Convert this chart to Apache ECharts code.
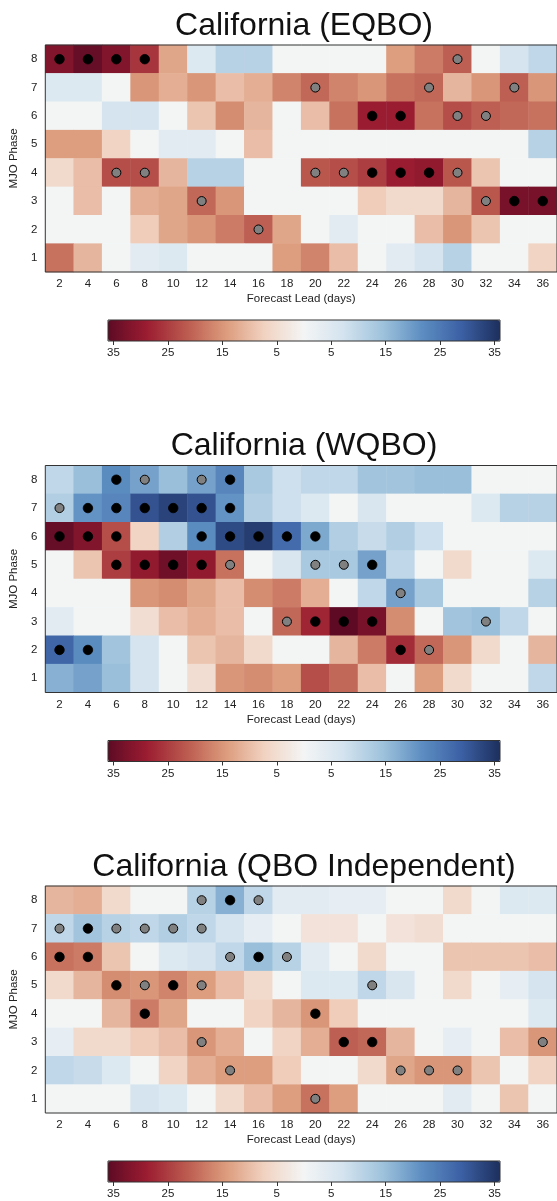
<!DOCTYPE html>
<html>
<head>
<meta charset="utf-8">
<title>California MJO/QBO lead-phase anomalies</title>
<script src="https://cdn.jsdelivr.net/npm/echarts@6/dist/echarts.min.js"></script>
<style>
  html, body { margin: 0; padding: 0; background: #ffffff; }
  #chart { width: 557px; height: 1201px; }
</style>
</head>
<body>
<div id="chart"></div>
<script>
// Axis categories
const leads = ['2', '4', '6', '8', '10', '12', '14', '16', '18', '20', '22', '24', '26', '28', '30', '32', '34', '36'];
const phases = ['1', '2', '3', '4', '5', '6', '7', '8'];
const panelTitles = ['California (EQBO)', 'California (WQBO)', 'California (QBO Independent)'];
const colorbarTicks = [-35, -25, -15, -5, 5, 15, 25, 35];

// Anomaly values; rows run from MJO phase 8 (first) down to phase 1 (last),
// columns follow the forecast leads above.
const eqboValues = [
  [-32, -35, -32, -26, -13, 5, 11, 11, 0, 0, 0, 0, -14, -18, -21, 0, 7, 10],
  [5, 5, 0, -15, -12, -15, -10, -12, -17, -20, -17, -15, -19, -20, -11, -15, -21, -15],
  [0, 0, 7, 7, 0, -9, -16, -11, 0, -10, -19, -29, -29, -19, -23, -21, -20, -19],
  [-14, -14, -7, 0, 4, 4, 0, -10, 0, 0, 0, 0, 0, 0, 0, 0, 0, 11],
  [-6, -10, -23, -23, -11, 11, 11, 0, 0, -22, -23, -25, -29, -30, -22, -9, 0, 0],
  [0, -10, 0, -12, -13, -20, -15, 0, 0, 0, 0, -8, -6, -6, -11, -22, -33, -33],
  [0, 0, 0, -8, -13, -15, -18, -21, -13, 0, 4, 0, 0, -10, -15, -9, 0, 0],
  [-19, -11, 0, 4, 5, 0, 0, 0, -14, -17, -10, 0, 4, 7, 11, 0, 0, -7]
];
const wqboValues = [
  [10, 15, 22, 19, 15, 19, 23, 13, 8, 10, 10, 14, 14, 15, 15, 0, 0, 0],
  [12, 21, 23, 31, 33, 31, 21, 12, 8, 5, 0, 6, 0, 0, 0, 5, 11, 11],
  [-35, -32, -23, -7, 12, 22, 32, 34, 27, 18, 12, 9, 12, 8, 0, 0, 0, 0],
  [0, -9, -25, -30, -34, -30, -19, 0, 6, 13, 13, 19, 10, 0, -6, 0, 0, 5],
  [0, 0, 0, -15, -16, -13, -10, -16, -18, -12, 0, 10, 19, 13, 0, 0, 0, 11],
  [4, 0, 0, -5, -10, -12, -10, 0, -20, -28, -36, -33, -16, 0, 14, 15, 10, 0],
  [28, 22, 14, 7, 0, -9, -11, -6, 0, 0, -11, -18, -27, -20, -15, -6, 0, -11],
  [17, 19, 15, 7, 0, -5, -15, -16, -14, -23, -20, -10, 0, -14, -6, 0, 0, 10]
];
const qboIndValues = [
  [-11, -12, -6, 0, 0, 11, 17, 10, 4, 4, 3, 3, 0, 0, -6, 0, 5, 5],
  [10, 14, 11, 10, 12, 10, 7, 3, 0, -4, -4, 0, -4, -5, 0, 0, 0, 0],
  [-19, -18, -9, 0, 5, 7, 10, 15, 11, 4, 0, -6, 0, 0, -9, -9, -9, -10],
  [-6, -11, -16, -15, -17, -14, -10, -6, 0, 5, 5, 10, 6, 0, -6, 0, 3, 7],
  [0, 0, -11, -18, -13, 0, 0, -7, -11, -15, -8, 0, 0, 0, 0, 0, 0, 5],
  [3, -6, -6, -8, -10, -15, -12, 0, -7, -12, -21, -20, -11, 0, 3, 0, -10, -15],
  [10, 9, 5, 0, -7, -12, -14, -14, -8, 0, 0, -6, -13, -15, -15, -9, 0, -7],
  [0, 0, 0, 7, 5, 0, -6, -10, -14, -19, -14, 0, 0, 0, 4, 0, -9, 0]
];

// Significance flags, same layout: 2 = black dot, 1 = grey dot, 0 = none
const eqboSig = [
  '222200000000001000',
  '000000000100010010',
  '000000000002201100',
  '000000000000000000',
  '001100000112221000',
  '000001000000000122',
  '000000010000000000',
  '000000000000000000'
];
const wqboSig = [
  '002101200000000000',
  '122222200000000000',
  '222002222200000000',
  '002222100112000000',
  '000000000000100000',
  '000000001222000100',
  '220000000000210000',
  '000000000000000000'
];
const qboIndSig = [
  '000001210000000000',
  '121111000000000000',
  '220000121000000000',
  '002121000001000000',
  '000200000200000000',
  '000001000022000001',
  '000000100000111000',
  '000000000100000000'
];

// Diverging red-white-blue ramp (muted), from -36 to +36
const divergingRamp = ['#5e0a25', '#9b1d31', '#bb5a4f', '#dc9b7c', '#f1d3c2', '#f3f5f5',
                       '#d4e3ef', '#9fc3dc', '#5d8ec2', '#3c61a5', '#1d2f5d'];

const FONT = '"Liberation Sans", Arial, Helvetica, sans-serif';
const TEXT = '#222222';
const LINE = '#333333';

// Panel geometry
const PANEL_STEP = 420.5;
const PLOT = { left: 44, top: 45, width: 520, height: 227 };
const BAR = { left: 108, top: 320, width: 392, height: 21 };
const TITLE_X = 304, TITLE_Y = 26;

const panels = [
  { title: panelTitles[0], values: eqboValues, sig: eqboSig },
  { title: panelTitles[1], values: wqboValues, sig: wqboSig },
  { title: panelTitles[2], values: qboIndValues, sig: qboIndSig }
];

const grids = [], xAxes = [], yAxes = [], series = [], visualMaps = [], graphics = [];

panels.forEach((p, k) => {
  const o = k * PANEL_STEP;
  const gi = 2 * k;        // heatmap grid
  const ci = 2 * k + 1;    // colorbar grid
  const nRows = p.values.length;

  const cells = [], black = [], grey = [];
  p.values.forEach((row, r) => {
    row.forEach((v, c) => {
      const yi = nRows - 1 - r;
      cells.push([c, yi, v]);
      const flag = p.sig[r].charAt(c);
      if (flag === '2') black.push([c, yi]);
      else if (flag === '1') grey.push([c, yi]);
    });
  });

  grids.push({
    left: PLOT.left, top: PLOT.top + o, width: PLOT.width, height: PLOT.height,
    show: true, borderColor: LINE, borderWidth: 1, backgroundColor: 'transparent', z: 10
  });
  grids.push({
    left: BAR.left, top: BAR.top + o, width: BAR.width, height: BAR.height,
    show: true, borderColor: LINE, borderWidth: 1, backgroundColor: 'transparent', z: 10
  });

  xAxes.push({
    type: 'category', gridIndex: gi, data: leads,
    axisLine: { show: false },
    axisTick: { alignWithLabel: true, length: 4, lineStyle: { color: LINE, width: 1 } },
    axisLabel: { margin: 6, fontSize: 11.5, color: TEXT, fontFamily: FONT },
    splitLine: { show: false },
    name: 'Forecast Lead (days)', nameLocation: 'middle', nameGap: 21,
    nameTextStyle: { fontSize: 11.5, color: TEXT, fontFamily: FONT }
  });
  yAxes.push({
    type: 'category', gridIndex: gi, data: phases,
    axisLine: { show: false },
    axisTick: { alignWithLabel: true, length: 4, lineStyle: { color: LINE, width: 1 } },
    axisLabel: { margin: 8, fontSize: 11.5, color: TEXT, fontFamily: FONT },
    splitLine: { show: false },
    name: 'MJO Phase', nameLocation: 'middle', nameGap: 19,
    nameTextStyle: { fontSize: 11.5, color: TEXT, fontFamily: FONT }
  });

  xAxes.push({
    type: 'value', gridIndex: ci, min: -36, max: 36,
    axisLine: { show: false },
    splitLine: { show: false },
    axisTick: { customValues: colorbarTicks, length: 4, lineStyle: { color: LINE, width: 1 } },
    axisLabel: {
      customValues: colorbarTicks, margin: 6, fontSize: 11.5, color: TEXT, fontFamily: FONT,
      formatter: v => String(Math.abs(v))
    }
  });
  yAxes.push({ type: 'value', gridIndex: ci, min: 0, max: 1, show: false });

  const heatIndex = series.length;
  series.push({
    type: 'heatmap', xAxisIndex: gi, yAxisIndex: gi, data: cells,
    itemStyle: { borderWidth: 0 },
    emphasis: { disabled: true }, silent: true
  });
  series.push({
    type: 'scatter', xAxisIndex: gi, yAxisIndex: gi, data: black,
    symbol: 'circle', symbolSize: 9.5, z: 4,
    itemStyle: { color: '#000000', borderColor: '#000000', borderWidth: 0.8, opacity: 1 },
    emphasis: { disabled: true }, silent: true
  });
  series.push({
    type: 'scatter', xAxisIndex: gi, yAxisIndex: gi, data: grey,
    symbol: 'circle', symbolSize: 9, z: 4,
    itemStyle: { color: '#808080', borderColor: '#000000', borderWidth: 1, opacity: 1 },
    emphasis: { disabled: true }, silent: true
  });

  visualMaps.push({
    type: 'continuous', seriesIndex: heatIndex, dimension: 2,
    min: -36, max: 36, orient: 'horizontal',
    left: BAR.left, top: BAR.top + o,
    itemWidth: BAR.height, itemHeight: BAR.width,
    calculable: false, realtime: false, hoverLink: false,
    text: null, padding: 0,
    inRange: { color: divergingRamp }
  });

  graphics.push({
    type: 'text', x: TITLE_X, y: TITLE_Y + o, silent: true,
    style: {
      text: p.title, fill: '#111111',
      font: '32px ' + FONT,
      textAlign: 'center', textVerticalAlign: 'middle'
    }
  });
});

const chart = echarts.init(document.getElementById('chart'), null, { renderer: 'canvas' });
chart.setOption({
  animation: false,
  backgroundColor: '#ffffff',
  grid: grids,
  xAxis: xAxes,
  yAxis: yAxes,
  visualMap: visualMaps,
  series: series,
  graphic: graphics
});
</script>
</body>
</html>
